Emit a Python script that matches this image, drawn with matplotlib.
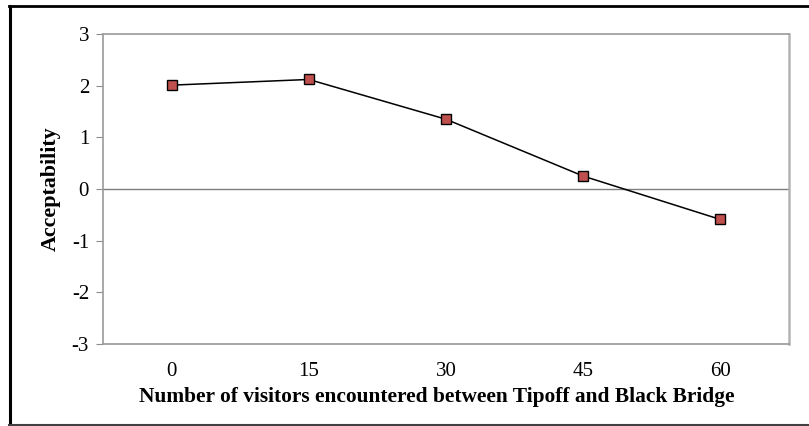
import matplotlib.pyplot as plt
from matplotlib.lines import Line2D

visitors = ['0', '15', '30', '45', '60']
acceptability = [2.01, 2.12, 1.35, 0.25, -0.59]
y_ticks = [-3, -2, -1, 0, 1, 2, 3]

plt.rcParams['font.family'] = 'Liberation Serif'

W, H = 809, 426
fig = plt.figure(figsize=(W / 100, H / 100), dpi=100)
ax = fig.add_axes([103 / W, 1 - 344 / H, (789 - 103) / W, (344 - 34) / H])

x = range(len(visitors))
ax.axhline(0, color='#7f7f7f', lw=1.0, zorder=1)
ax.plot(x, acceptability, color='black', lw=1.1, marker='s', markersize=6.5,
        markerfacecolor='#c0504d', markeredgecolor='black', markeredgewidth=1.0,
        zorder=3)

ax.set_xlim(-0.5, len(visitors) - 0.5)
ax.set_ylim(-3, 3)
ax.set_xticks(list(x))
ax.set_xticklabels(visitors, fontsize=15)
ax.set_yticks(y_ticks)
ax.set_yticklabels([str(t) for t in y_ticks], fontsize=15)
ax.tick_params(axis='x', length=0, pad=13)
ax.tick_params(axis='y', direction='out', length=5, color='#8c8c8c', pad=5)

for side in ['left', 'bottom', 'top']:
    ax.spines[side].set_color('#9a9a9a')
    ax.spines[side].set_linewidth(1.2)
ax.spines['right'].set_color('#b4b4b4')
ax.spines['right'].set_linewidth(1.8)

ax.set_xlabel('Number of visitors encountered between Tipoff and Black Bridge',
              fontsize=15.4, fontweight='bold')
# Excel centres the title on the chart area, a bit left of the plot centre
ax.xaxis.set_label_coords((437 - 103) / (789 - 103), (344 - 397) / (344 - 34))
ax.xaxis.label.set_verticalalignment('center')
ax.set_ylabel('Acceptability', fontsize=15.8, fontweight='bold', labelpad=8)

# outer frame
fig.add_artist(Line2D([9.5 / W, 9.5 / W], [1 - 6 / H, 1 - 425 / H], color='black', lw=2.2,
                      transform=fig.transFigure))
fig.add_artist(Line2D([9 / W, 1.0], [1 - 6 / H, 1 - 6 / H], color='black', lw=2.0,
                      transform=fig.transFigure))
fig.add_artist(Line2D([9 / W, 1.0], [1 - 425 / H, 1 - 425 / H], color='#404040', lw=1.5,
                      transform=fig.transFigure))

fig.savefig('out.png', dpi=100)
